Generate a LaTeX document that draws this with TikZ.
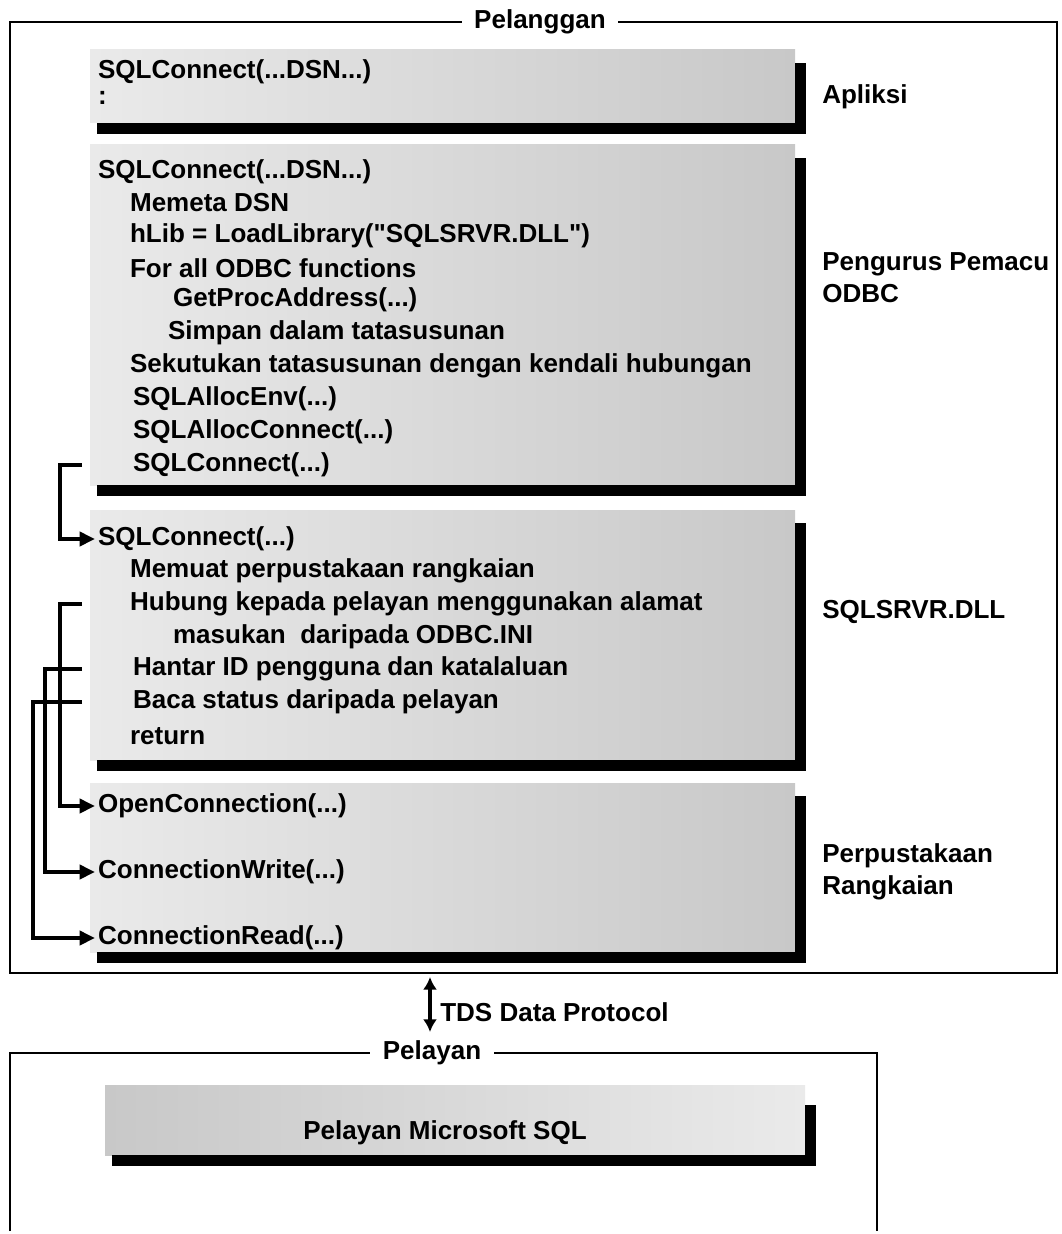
\documentclass[tikz,border=0pt]{standalone}
\usepackage{fontspec}
\setmainfont{Liberation Sans}[Ligatures=TeXOff]
\usetikzlibrary{arrows.meta}
\definecolor{panellight}{RGB}{234,234,234}
\definecolor{paneldark}{RGB}{200,200,200}

\begin{document}
\begin{tikzpicture}[x=0.025cm,y=-0.025cm,
  font=\fontsize{18.5}{23}\selectfont\bfseries,
  txt/.style={anchor=west,inner sep=2pt},
  lbl/.style={anchor=west,inner sep=0pt,align=left},
  title/.style={fill=white,inner xsep=9pt,inner ysep=1pt},
  frame/.style={line width=1.6pt},
  link/.style={line width=2.8pt,-{Triangle[length=11pt,width=10pt]}}]
  \useasboundingbox (0,0) rectangle (1061,1234);

  % client and server frames
  \draw[frame] (10,22) rectangle (1057,973);
  \node[title] (client) at (540,22) {Pelanggan};
  \draw[frame] (10,1231) -- (10,1053) -- (877,1053) -- (877,1231);
  \node[title] (server) at (432,1053) {Pelayan};

  % shaded panels with drop shadow
  \foreach \t/\b in {50/123,145/485,510/760,783/952}{
    \shade[left color=panellight,right color=paneldark] (90,\t) rectangle (795,\b);
    \fill (795,\t+13) rectangle (806,\b+11);
    \fill (97,\b) rectangle (806,\b+11);
  }
  \shade[left color=paneldark,right color=panellight] (105,1085) rectangle (805,1155);
  \fill (805,1105) rectangle (816,1166);
  \fill (112,1155) rectangle (816,1166);

  % application
  \node[txt] (appConnect) at (95,72) {SQLConnect(...DSN...)};
  \node[txt] (appDots) at (95,98) {:};
  \node[lbl] (appLabel) at (822,97) {Apliksi};

  % driver manager
  \node[txt] (mgrDsn) at (95,172) {SQLConnect(...DSN...)};
  \node[txt] (mgrRead) at (127,203) {Memeta DSN};
  \node[txt] (mgrLoad) at (127,236) {hLib = LoadLibrary("SQLSRVR.DLL")};
  \node[txt] (mgrFor) at (127,268) {For all ODBC functions};
  \node[txt] (mgrProc) at (170,300) {GetProcAddress(...)};
  \node[txt] (mgrStore) at (165,333) {Simpan dalam tatasusunan};
  \node[txt] (mgrBind) at (127,366) {Sekutukan tatasusunan dengan kendali hubungan};
  \node[txt] (mgrEnv) at (130,399) {SQLAllocEnv(...)};
  \node[txt] (mgrAlloc) at (130,432) {SQLAllocConnect(...)};
  \node[txt] (mgrConnect) at (130,465) {SQLConnect(...)};
  \node[lbl] (mgrLabel) at (822,278) {Pengurus Pemacu\\ODBC};

  % driver dll
  \node[txt] (dllConnect) at (95,539) {SQLConnect(...)};
  \node[txt] (dllLoad) at (127,571) {Memuat perpustakaan rangkaian};
  \node[txt] (dllLink) at (127,604) {Hubung kepada pelayan menggunakan alamat};
  \node[txt] (dllEntry) at (170,637) {masukan\ \ daripada ODBC.INI};
  \node[txt] (dllSend) at (130,669) {Hantar ID pengguna dan katalaluan};
  \node[txt] (dllStatus) at (130,702) {Baca status daripada pelayan};
  \node[txt] (dllReturn) at (127,736) {return};
  \node[lbl] (dllLabel) at (822,612) {SQLSRVR.DLL};

  % network library
  \node[txt] (netOpen) at (95,806) {OpenConnection(...)};
  \node[txt] (netWrite) at (95,872) {ConnectionWrite(...)};
  \node[txt] (netRead) at (95,938) {ConnectionRead(...)};
  \node[lbl] (netLabel) at (822,872) {Perpustakaan\\Rangkaian};

  % server
  \node (sqlServer) at (445,1133) {Pelayan Microsoft SQL};

  % call connectors
  \coordinate (busIn) at (82,0);
  \coordinate (busA) at (60,0);
  \coordinate (busB) at (45,0);
  \coordinate (busC) at (33,0);
  \draw[link] (mgrConnect.west -| busIn) -- (mgrConnect.west -| busA) |- (dllConnect.west);
  \draw[link] (dllLink.west -| busIn) -- (dllLink.west -| busA) |- (netOpen.west);
  \draw[link] (dllSend.west -| busIn) -- (dllSend.west -| busB) |- (netWrite.west);
  \draw[link] (dllStatus.west -| busIn) -- (dllStatus.west -| busC) |- (netRead.west);

  % protocol
  \coordinate (tdsTop) at (430,977);
  \coordinate (tdsBot) at (430,1032);
  \draw[line width=2.6pt,{Latex[length=9pt,width=10pt]}-{Latex[length=9pt,width=10pt]}] (tdsTop) -- (tdsBot);
  \node[lbl] (tds) at (440,1012) {TDS Data Protocol};
\end{tikzpicture}
\end{document}
